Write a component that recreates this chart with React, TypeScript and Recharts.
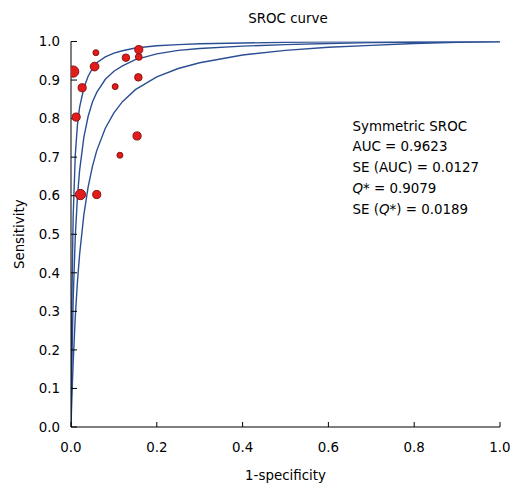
import {
  ComposedChart,
  Line,
  Scatter,
  XAxis,
  YAxis,
  ZAxis,
} from "recharts";

// 1-specificity grid shared by the three curves
const fpr = [
  0, 0.001, 0.002, 0.005, 0.01, 0.015, 0.02, 0.03, 0.04, 0.05, 0.06, 0.08,
  0.1, 0.12, 0.15, 0.2, 0.25, 0.3, 0.4, 0.5, 0.6, 0.7, 0.8, 0.9, 1,
];

// upper band, SROC curve, lower band (sensitivity)
const upperSens = [
  0, 0.192, 0.322, 0.544, 0.706, 0.783, 0.829, 0.88, 0.91, 0.93, 0.945,
  0.96, 0.97, 0.976, 0.983, 0.989, 0.992, 0.994, 0.996, 0.998, 0.999, 0.999,
  0.9995, 0.9998, 1,
];
const srocSens = [
  0, 0.089, 0.163, 0.328, 0.495, 0.597, 0.665, 0.752, 0.806, 0.843, 0.868,
  0.902, 0.923, 0.937, 0.953, 0.968, 0.977, 0.982, 0.988, 0.992, 0.995, 0.997,
  0.998, 0.999, 1,
];
const lowerSens = [
  0, 0.038, 0.074, 0.166, 0.286, 0.376, 0.447, 0.551, 0.623, 0.676, 0.717,
  0.775, 0.815, 0.844, 0.875, 0.908, 0.93, 0.945, 0.965, 0.977, 0.985, 0.99,
  0.995, 0.998, 1,
];

// individual studies
const studyFpr = [0.005, 0.058, 0.055, 0.128, 0.158, 0.158, 0.026, 0.103, 0.157, 0.012, 0.154, 0.114, 0.022, 0.06];
const studySens = [0.922, 0.971, 0.935, 0.958, 0.979, 0.96, 0.88, 0.883, 0.907, 0.804, 0.755, 0.705, 0.603, 0.603];
const studyWeight = [10, 1, 5, 3, 4, 2, 4, 1, 3, 4, 4, 1, 8, 4];

const xTicks = [0, 0.2, 0.4, 0.6, 0.8, 1];
const yTicks = [0, 0.1, 0.2, 0.3, 0.4, 0.5, 0.6, 0.7, 0.8, 0.9, 1];

const stats = [
  "Symmetric SROC",
  "AUC = 0.9623",
  "SE (AUC) = 0.0127",
  "Q* = 0.9079",
  "SE (Q*) = 0.0189",
];

const toCurve = (ys: number[]) => fpr.map((x, i) => ({ x, y: ys[i] }));
const studies = studyFpr.map((x, i) => ({ x, y: studySens[i], w: studyWeight[i] }));

const FONT = "'DejaVu Sans', Verdana, sans-serif";
const CURVE = "#2c4f93";

function StatLine({ text }: { text: string }) {
  // italic Q, upright asterisk
  const parts = text.split("Q*");
  if (parts.length === 1) return <div>{text}</div>;
  return (
    <div>
      {parts[0]}
      <i>Q</i>*{parts[1]}
    </div>
  );
}

export default function App() {
  const tickStyle = { fontSize: 13.4, fill: "#000", fontFamily: FONT };
  return (
    <div style={{ position: "absolute", left: 0, top: 0, width: 529, height: 497, background: "#fff" }}>
      <div
        style={{
          position: "absolute",
          left: 188,
          top: 8.5,
          width: 200,
          textAlign: "center",
          fontFamily: FONT,
          fontSize: 13.4,
          lineHeight: "20.8px",
        }}
      >
        SROC curve
      </div>
      <ComposedChart width={529} height={497} margin={{ top: 41.5, right: 29, left: 31, bottom: 30 }}>
        <XAxis
          type="number"
          dataKey="x"
          domain={[0, 1]}
          ticks={xTicks}
          tickFormatter={(v: number) => v.toFixed(1)}
          stroke="#000"
          tick={tickStyle}
          tickSize={-5}
          tickMargin={20}
          height={40}
          allowDataOverflow
          label={{ value: "1-specificity", position: "bottom", offset: 3, fontSize: 13.4, fill: "#000", fontFamily: FONT }}
        />
        <YAxis
          type="number"
          dataKey="y"
          domain={[0, 1]}
          ticks={yTicks}
          tickFormatter={(v: number) => v.toFixed(1)}
          stroke="#000"
          tick={tickStyle}
          tickSize={-6}
          tickMargin={17}
          width={40}
          allowDataOverflow
          label={{ value: "Sensitivity", angle: -90, position: "center", dx: -32, fontSize: 13.4, fill: "#000", fontFamily: FONT }}
        />
        <ZAxis type="number" dataKey="w" domain={[1, 10]} range={[28, 100]} />
        <Line data={toCurve(upperSens)} dataKey="y" stroke={CURVE} strokeWidth={1.4} dot={false} isAnimationActive={false} />
        <Line data={toCurve(srocSens)} dataKey="y" stroke={CURVE} strokeWidth={1.4} dot={false} isAnimationActive={false} />
        <Line data={toCurve(lowerSens)} dataKey="y" stroke={CURVE} strokeWidth={1.4} dot={false} isAnimationActive={false} />
        <Scatter data={studies} fill="#e21b1b" stroke="#8c1212" strokeWidth={1} isAnimationActive={false} />
      </ComposedChart>
      <div
        style={{
          position: "absolute",
          left: 352.5,
          top: 116.5,
          fontFamily: FONT,
          fontSize: 13.4,
          lineHeight: "20.8px",
          whiteSpace: "nowrap",
        }}
      >
        {stats.map((s) => (
          <StatLine key={s} text={s} />
        ))}
      </div>
    </div>
  );
}
